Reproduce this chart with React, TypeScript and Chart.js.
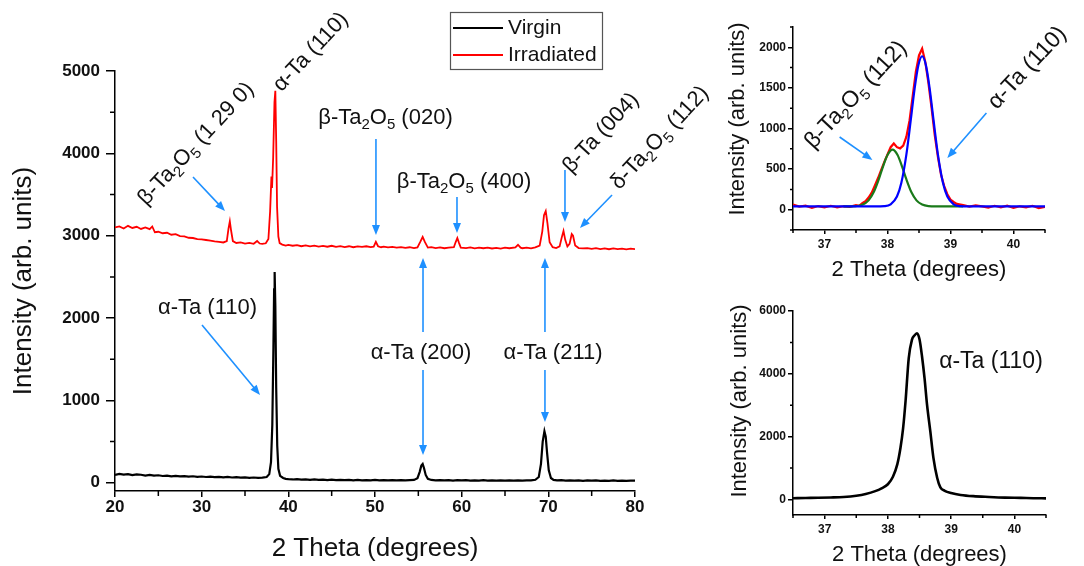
import React, { useEffect, useRef } from 'react';
import { Chart, registerables } from 'chart.js';

Chart.register(...registerables);

const FONT = '"Liberation Sans", Arial, Helvetica, sans-serif';
const ARROW_BLUE = '#1E90FF';

// ---------------- Main panel ----------------
const mainXTicks = [20, 30, 40, 50, 60, 70, 80];
const mainYTicks = [0, 1000, 2000, 3000, 4000, 5000];
const mainXMinor = [25, 35, 45, 55, 65, 75];
const mainYMinor = [500, 1500, 2500, 3500, 4500];

const virginTheta = [
  20, 20.5, 21, 21.5, 22, 22.5, 23, 23.5, 24, 24.5,
  25, 25.5, 26, 26.5, 27, 27.5, 28, 28.5, 29, 29.5,
  30, 30.5, 31, 31.5, 32, 32.5, 33, 33.5, 34, 34.5,
  35, 35.5, 36, 36.5, 37, 37.5,
  37.8, 38.0, 38.15, 38.28, 38.36, 38.42, 38.5, 38.6, 38.72, 38.85, 39.05, 39.4, 39.7,
  40, 40.5, 41, 41.5, 42, 42.5, 43, 43.5, 44, 44.5,
  45, 45.5, 46, 46.5, 47, 47.5, 48, 48.5, 49, 49.5,
  50, 50.5, 51, 51.5, 52, 52.5, 53, 53.5, 54, 54.5,
  54.9, 55.15, 55.35, 55.5, 55.65, 55.85, 56.1,
  56.5, 57, 57.5, 58, 58.5, 59, 59.5, 60, 60.5, 61,
  61.5, 62, 62.5, 63, 63.5, 64, 64.5, 65, 65.5, 66,
  66.5, 67, 67.5, 68, 68.5,
  68.9, 69.15, 69.35, 69.55, 69.7, 69.85, 70.05, 70.3, 70.6,
  71, 71.5, 72, 72.5, 73, 73.5, 74, 74.5, 75, 75.5,
  76, 76.5, 77, 77.5, 78, 78.5, 79, 79.5, 80,
];
const virginIntensity = [
  95, 108, 98, 104, 92, 101, 97, 88, 95, 86,
  91, 82, 87, 78, 84, 77, 80, 74, 79, 71,
  76, 70, 74, 68, 72, 66, 71, 64, 68, 62,
  66, 60, 64, 59, 63, 70,
  105, 250, 700, 1650, 2350, 2560, 2150, 1150, 450, 170, 85, 58, 48,
  44, 40, 45, 38, 42, 36, 41, 35, 39, 33,
  37, 32, 36, 31, 35, 30, 34, 29, 33, 29,
  34, 30, 33, 28, 32, 29, 33, 28, 32, 35,
  55, 130, 210, 228, 180, 95, 48,
  34, 30, 33, 28, 32, 27, 31, 28, 32, 27,
  30, 26, 31, 27, 30, 25, 29, 26, 30, 27,
  29, 26, 30, 28, 36,
  70, 230, 500, 625, 560, 370, 150, 58, 35,
  28, 31, 26, 30, 25, 29, 24, 28, 25, 29,
  24, 27, 23, 28, 24, 27, 23, 26, 25,
];

const irradiatedTheta = [
  20, 20.5, 21, 21.5, 22, 22.5, 23, 23.5, 24,
  24.3, 24.6,
  25, 25.5, 26, 26.5, 27, 27.5, 28, 28.5, 29, 29.5, 30, 30.5, 31, 31.5, 32, 32.5,
  32.9, 33.1, 33.25, 33.4, 33.6,
  34, 34.5, 35, 35.5, 36,
  36.4, 36.7, 37, 37.4, 37.7, 37.9, 38.05, 38.12, 38.25, 38.4, 38.5, 38.6, 38.7, 38.85, 39.0, 39.3, 39.7,
  40, 40.5, 41, 41.5, 42, 42.5, 43, 43.5, 44, 44.5, 45, 45.5, 46, 46.5, 47, 47.5, 48, 48.5, 49, 49.5,
  49.85, 50.1, 50.35, 50.7,
  51, 51.5, 52, 52.5, 53, 53.5, 54, 54.5,
  54.9, 55.25, 55.5, 55.75, 56.1,
  56.5, 57, 57.5, 58, 58.5,
  59.1, 59.3, 59.5, 59.7, 59.9,
  60.5, 61, 61.5, 62, 62.5, 63, 63.5, 64, 64.5, 65, 65.5,
  66.2, 66.5, 66.8,
  67, 67.5, 68, 68.5,
  69.0, 69.3, 69.5, 69.7, 69.9, 70.15, 70.5, 70.9, 71.3, 71.55, 71.75, 71.95, 72.2, 72.45, 72.7, 72.85, 73.1, 73.5,
  74, 74.5, 75, 75.5, 76, 76.5, 77, 77.5, 78, 78.5, 79, 79.5, 80,
];
const irradiatedIntensity = [
  3100, 3112, 3088, 3120, 3094, 3108, 3082, 3101, 3079,
  3112, 3042,
  3048, 3030, 3036, 3012, 3018, 2996, 2992, 2975, 2972, 2958, 2955, 2948, 2940, 2932, 2926, 2918,
  2935, 3090, 3175, 3060, 2935,
  2912, 2918, 2905, 2912, 2902,
  2935, 2905, 2900, 2908, 2960, 3300, 3720, 3580, 3950, 4620, 4760, 4150, 3350, 2990, 2910, 2892, 2880,
  2888, 2878, 2885, 2872, 2882, 2870, 2880, 2868, 2876, 2866, 2878, 2865, 2874, 2862, 2872, 2860, 2870, 2864, 2872, 2862,
  2868, 2925, 2872, 2860,
  2868, 2858, 2864, 2855, 2862, 2852, 2860, 2850,
  2858, 2930, 2985, 2925, 2856,
  2862, 2850, 2858, 2848, 2856,
  2860, 2920, 2972, 2910, 2855,
  2850, 2858, 2846, 2855, 2848, 2856, 2845, 2852, 2844, 2854, 2848,
  2858, 2890, 2855,
  2848, 2856, 2846, 2858,
  2880, 3050, 3250, 3300, 3150, 2920, 2860, 2850, 2870, 2980, 3058, 2950, 2870, 2900, 3020, 3000, 2880, 2850,
  2845, 2850, 2840, 2848, 2838, 2846, 2836, 2845, 2838, 2844, 2835, 2842, 2838,
];

// ---------------- Inset panels (shared x) ----------------
const insetXTicks = [37, 38, 39, 40];
const insetXMinor = [36.5, 37.5, 38.5, 39.5, 40.5];

// Top inset: irradiated peak with two fitted components
const fitYTicks = [0, 500, 1000, 1500, 2000];
const fitYMinor = [-250, 250, 750, 1250, 1750, 2250];

const fitDataTheta = [
  36.5, 36.6, 36.7, 36.8, 36.9, 37.0, 37.1, 37.2, 37.3, 37.4,
  37.5, 37.55, 37.6, 37.65, 37.7, 37.75, 37.8, 37.85, 37.9, 37.95,
  38.0, 38.05, 38.1, 38.15, 38.2, 38.25, 38.3, 38.35, 38.4, 38.45,
  38.5, 38.55, 38.6, 38.65, 38.7, 38.75, 38.8, 38.85, 38.9, 38.95,
  39.0, 39.05, 39.1, 39.2, 39.3, 39.4, 39.5, 39.6, 39.7, 39.8,
  39.9, 40.0, 40.1, 40.2, 40.3, 40.4, 40.5,
];
const fitDataIntensity = [
  62, 38, 50, 22, 45, 30, 48, 28, 42, 36,
  55, 48, 80, 105, 150, 210, 300, 390, 490, 590,
  680, 770, 815, 770, 755, 790, 900, 1100, 1400, 1700,
  1900, 1985, 1820, 1560, 1250, 920, 650, 430, 290, 190,
  125, 95, 72, 58, 38, 52, 40, 25, 48, 30,
  50, 22, 42, 30, 48, 20, 36,
];

const oxideFitTheta = [37.3, 37.5, 37.6, 37.7, 37.78, 37.85, 37.93, 38.0, 38.08, 38.16, 38.23, 38.3, 38.38, 38.46, 38.55, 38.65, 38.8, 39.0, 39.2];
const oxideFitIntensity = [40, 45, 60, 115, 214, 349, 535, 674, 740, 674, 535, 372, 214, 115, 63, 45, 41, 40, 40];

const alphaFitTheta = [36.5, 37.0, 37.5, 37.8, 37.95, 38.05, 38.15, 38.22, 38.3, 38.37, 38.43, 38.49, 38.55, 38.61, 38.67, 38.73, 38.8, 38.88, 38.95, 39.05, 39.15, 39.3, 39.6, 40.0, 40.5];
const alphaFitIntensity = [40, 40, 40, 40, 44, 67, 163, 332, 682, 1108, 1489, 1779, 1890, 1779, 1489, 1108, 682, 332, 163, 67, 44, 40, 40, 40, 40];

// Bottom inset: virgin alpha-Ta (110)
const virginPeakYTicks = [0, 2000, 4000, 6000];
const virginPeakYMinor = [1000, 3000, 5000];
const virginPeakTheta = [
  36.5, 36.7, 36.9, 37.1, 37.3, 37.5, 37.65, 37.8, 37.9, 38.0,
  38.08, 38.15, 38.2, 38.24, 38.28, 38.33, 38.38, 38.42, 38.46, 38.5,
  38.54, 38.58, 38.62, 38.67, 38.72, 38.78, 38.83, 38.9, 39.0, 39.15,
  39.35, 39.6, 39.85, 40.1, 40.3, 40.5,
];
const virginPeakIntensity = [
  35, 42, 48, 58, 75, 115, 170, 260, 350, 480,
  720, 1120, 1650, 2250, 3140, 4500, 5080, 5220, 5290, 5100,
  4550, 3850, 3000, 2180, 1320, 680, 380, 270, 200, 140,
  100, 75, 55, 45, 35, 30,
];

// ---------------- Drawing helpers ----------------
type Label = { text: string; x: number; y: number; rot: number; size: number };
type Arrow = { x1: number; y1: number; x2: number; y2: number };
type Overlay = {
  labels: Label[];
  arrows: Arrow[];
  minorX: number[];
  minorY: number[];
  minorLen: number;
  yTitle?: { text: string; cx: number; cy: number; size: number };
  legend?: { left: number; top: number; width: number; height: number; size: number };
};

function drawRich(ctx: CanvasRenderingContext2D, text: string, size: number, cx: number, cy: number, rot: number) {
  const parts: { t: string; sub: boolean }[] = [];
  let buf = '';
  for (let i = 0; i < text.length; i++) {
    if (text[i] === '_' && i + 1 < text.length) {
      if (buf) parts.push({ t: buf, sub: false });
      buf = '';
      parts.push({ t: text[i + 1], sub: true });
      i++;
    } else buf += text[i];
  }
  if (buf) parts.push({ t: buf, sub: false });
  const mainFont = `${size}px ${FONT}`;
  const subFont = `${Math.round(size * 0.66)}px ${FONT}`;
  let w = 0;
  parts.forEach((p) => {
    ctx.font = p.sub ? subFont : mainFont;
    w += ctx.measureText(p.t).width;
  });
  ctx.save();
  ctx.translate(cx, cy);
  ctx.rotate((rot * Math.PI) / 180);
  ctx.fillStyle = '#111';
  ctx.textAlign = 'left';
  ctx.textBaseline = 'middle';
  let x = -w / 2;
  parts.forEach((p) => {
    ctx.font = p.sub ? subFont : mainFont;
    ctx.fillText(p.t, x, p.sub ? size * 0.32 : 0);
    x += ctx.measureText(p.t).width;
  });
  ctx.restore();
}

function drawArrow(ctx: CanvasRenderingContext2D, x1: number, y1: number, x2: number, y2: number) {
  const ang = Math.atan2(y2 - y1, x2 - x1);
  const head = 10;
  const hw = 4;
  const c = Math.cos(ang);
  const s = Math.sin(ang);
  ctx.save();
  ctx.strokeStyle = ARROW_BLUE;
  ctx.fillStyle = ARROW_BLUE;
  ctx.lineWidth = 1.6;
  ctx.beginPath();
  ctx.moveTo(x1, y1);
  ctx.lineTo(x2 - head * c * 0.8, y2 - head * s * 0.8);
  ctx.stroke();
  ctx.beginPath();
  ctx.moveTo(x2, y2);
  ctx.lineTo(x2 - head * c - hw * s, y2 - head * s + hw * c);
  ctx.lineTo(x2 - head * c + hw * s, y2 - head * s - hw * c);
  ctx.closePath();
  ctx.fill();
  ctx.restore();
}

function makeOverlay(o: Overlay) {
  return {
    id: 'overlay',
    afterDraw(chart: any) {
      const ctx: CanvasRenderingContext2D = chart.ctx;
      const xs = chart.scales.x;
      const ys = chart.scales.y;
      const area = chart.chartArea;
      ctx.save();
      ctx.strokeStyle = '#000';
      ctx.lineWidth = 1.5;
      ctx.beginPath();
      o.minorX.forEach((v) => {
        const px = xs.getPixelForValue(v);
        ctx.moveTo(px, area.bottom);
        ctx.lineTo(px, area.bottom + o.minorLen);
      });
      o.minorY.forEach((v) => {
        const py = ys.getPixelForValue(v);
        ctx.moveTo(area.left, py);
        ctx.lineTo(area.left - o.minorLen, py);
      });
      ctx.stroke();
      if (o.yTitle) {
        ctx.save();
        ctx.translate(o.yTitle.cx, o.yTitle.cy);
        ctx.rotate(-Math.PI / 2);
        ctx.fillStyle = '#111';
        ctx.font = `${o.yTitle.size}px ${FONT}`;
        ctx.textAlign = 'center';
        ctx.textBaseline = 'middle';
        ctx.fillText(o.yTitle.text, 0, 0);
        ctx.restore();
      }
      o.arrows.forEach((a) =>
        drawArrow(ctx, xs.getPixelForValue(a.x1), ys.getPixelForValue(a.y1), xs.getPixelForValue(a.x2), ys.getPixelForValue(a.y2))
      );
      o.labels.forEach((l) => drawRich(ctx, l.text, l.size, xs.getPixelForValue(l.x), ys.getPixelForValue(l.y), l.rot));
      if (o.legend) {
        const L = o.legend;
        ctx.fillStyle = '#fff';
        ctx.fillRect(L.left, L.top, L.width, L.height);
        ctx.strokeStyle = '#555';
        ctx.lineWidth = 1.2;
        ctx.strokeRect(L.left + 0.5, L.top + 0.5, L.width, L.height);
        chart.data.datasets.forEach((ds: any, i: number) => {
          const cy = L.top + 16 + i * 27;
          ctx.strokeStyle = ds.borderColor;
          ctx.lineWidth = ds.borderWidth;
          ctx.beginPath();
          ctx.moveTo(L.left + 3, cy);
          ctx.lineTo(L.left + 53, cy);
          ctx.stroke();
          ctx.fillStyle = '#111';
          ctx.font = `${L.size}px ${FONT}`;
          ctx.textAlign = 'left';
          ctx.textBaseline = 'middle';
          ctx.fillText(ds.label, L.left + 58, cy);
        });
      }
      ctx.restore();
    },
  };
}

function pts(xs: number[], ys: number[]) {
  return xs.map((x, i) => ({ x, y: ys[i] }));
}

function axis(o: {
  min: number; max: number; ticks: number[]; size: number; tickLen: number; pad: number;
  title: string; titleSize: number; titlePad: any; titleLH?: number; showTitle?: boolean; fit: (s: any) => void;
}) {
  return {
    type: 'linear',
    min: o.min,
    max: o.max,
    afterBuildTicks: (s: any) => {
      s.ticks = o.ticks.map((v) => ({ value: v }));
    },
    afterFit: o.fit,
    ticks: {
      callback: (v: any) => String(v),
      font: { family: FONT, size: o.size, weight: 'bold' },
      color: '#111',
      padding: o.pad,
      maxRotation: 0,
      autoSkip: false,
    },
    grid: { drawOnChartArea: false, drawTicks: true, tickLength: o.tickLen, color: '#000', lineWidth: 1.5 },
    border: { color: '#000', width: 1.5 },
    title: {
      display: o.showTitle ?? true,
      text: o.title,
      color: '#111',
      font: { family: FONT, size: o.titleSize, lineHeight: o.titleLH ?? 1.2 },
      padding: o.titlePad,
    },
  };
}

const mainOverlay: Overlay = {
  minorX: mainXMinor,
  minorY: mainYMinor,
  minorLen: 5,
  legend: { left: 450, top: 12, width: 152, height: 57, size: 21 },
  arrows: [
    { x1: 29.0, y1: 3713, x2: 32.69, y2: 3300 },
    { x1: 50.11, y1: 4174, x2: 50.11, y2: 3009 },
    { x1: 59.46, y1: 3470, x2: 59.46, y2: 3033 },
    { x1: 71.92, y1: 3798, x2: 71.92, y2: 3167 },
    { x1: 77.35, y1: 3494, x2: 73.65, y2: 3094 },
    { x1: 55.54, y1: 1831, x2: 55.54, y2: 2729 },
    { x1: 55.54, y1: 1369, x2: 55.54, y2: 337 },
    { x1: 69.61, y1: 1831, x2: 69.61, y2: 2729 },
    { x1: 69.61, y1: 1369, x2: 69.61, y2: 738 },
    { x1: 30.04, y1: 1916, x2: 36.73, y2: 1066 },
  ],
  labels: [
    { text: 'β-Ta_2O_5 (1 29 0)', x: 29.35, y: 4114, rot: -47, size: 22 },
    { text: 'α-Ta (110)', x: 42.6, y: 5230, rot: -47, size: 22 },
    { text: 'β-Ta_2O_5 (020)', x: 51.21, y: 4429, rot: 0, size: 22 },
    { text: 'β-Ta_2O_5 (400)', x: 60.27, y: 3652, rot: 0, size: 22 },
    { text: 'β-Ta (004)', x: 76.08, y: 4247, rot: -47, size: 22 },
    { text: 'δ-Ta_2O_5 (112)', x: 82.88, y: 4187, rot: -47, size: 22 },
    { text: 'α-Ta (200)', x: 55.31, y: 1576, rot: 0, size: 22 },
    { text: 'α-Ta (211)', x: 70.54, y: 1576, rot: 0, size: 22 },
    { text: 'α-Ta (110)', x: 30.67, y: 2122, rot: 0, size: 22 },
  ],
};

const fitOverlay: Overlay = {
  minorX: insetXMinor,
  minorY: fitYMinor,
  minorLen: 3,
  yTitle: { text: 'Intensity (arb. units)', cx: 18, cy: 119, size: 22 },
  arrows: [
    { x1: 37.24, y1: 895, x2: 37.76, y2: 612 },
    { x1: 39.57, y1: 1191, x2: 38.95, y2: 637 },
  ],
  labels: [
    { text: 'β-Ta_2O_5 (112)', x: 37.5, y: 1413, rot: -47, size: 23 },
    { text: 'α-Ta (110)', x: 40.22, y: 1745, rot: -47, size: 23 },
  ],
};

const virginOverlay: Overlay = {
  minorX: insetXMinor,
  minorY: virginPeakYMinor,
  minorLen: 3,
  yTitle: { text: 'Intensity (arb. units)', cx: 20, cy: 111, size: 22 },
  arrows: [],
  labels: [{ text: 'α-Ta (110)', x: 39.63, y: 4376, rot: 0, size: 23 }],
};

function mainConfig(): any {
  return {
    type: 'line',
    data: {
      datasets: [
        { label: 'Virgin', data: pts(virginTheta, virginIntensity), borderColor: '#000000', borderWidth: 2.2, pointRadius: 0, tension: 0, fill: false },
        { label: 'Irradiated', data: pts(irradiatedTheta, irradiatedIntensity), borderColor: '#FF0000', borderWidth: 1.8, pointRadius: 0, tension: 0, fill: false },
      ],
    },
    options: {
      responsive: false,
      animation: false,
      events: [],
      layout: { padding: { left: 0, top: 71, right: 85, bottom: 0 } },
      plugins: { legend: { display: false }, tooltip: { enabled: false } },
      scales: {
        x: axis({ min: 20, max: 80, ticks: mainXTicks, size: 17, tickLen: 6, pad: 0, title: '2 Theta (degrees)', titleSize: 26, titlePad: { top: 0, bottom: 2 }, fit: (s) => { s.height = 75; } }),
        y: axis({ min: -100, max: 5000, ticks: mainYTicks, size: 17, tickLen: 9, pad: 6, title: 'Intensity (arb. units)', titleSize: 26, titlePad: { top: 8, bottom: 0 }, fit: (s) => { s.width = 115; } }),
      },
    },
    plugins: [makeOverlay(mainOverlay)],
  };
}

function fitConfig(): any {
  return {
    type: 'line',
    data: {
      datasets: [
        { label: 'α-Ta fit', data: pts(alphaFitTheta, alphaFitIntensity), borderColor: '#0000FF', borderWidth: 2.2, pointRadius: 0, cubicInterpolationMode: 'monotone', fill: false },
        { label: 'β-Ta2O5 fit', data: pts(oxideFitTheta, oxideFitIntensity), borderColor: '#1A7A1A', borderWidth: 2.2, pointRadius: 0, cubicInterpolationMode: 'monotone', fill: false },
        { label: 'Irradiated', data: pts(fitDataTheta, fitDataIntensity), borderColor: '#FF0000', borderWidth: 2.2, pointRadius: 0, tension: 0, fill: false },
      ],
    },
    options: {
      responsive: false,
      animation: false,
      events: [],
      layout: { padding: { left: 0, top: 27, right: 39, bottom: 0 } },
      plugins: { legend: { display: false }, tooltip: { enabled: false } },
      scales: {
        x: axis({ min: 36.5, max: 40.5, ticks: insetXTicks, size: 12, tickLen: 4, pad: 3, title: '2 Theta (degrees)', titleSize: 22, titlePad: { top: 0, bottom: 7 }, fit: (s) => { s.height = 60; } }),
        y: axis({ min: -250, max: 2250, ticks: fitYTicks, size: 12, tickLen: 5, pad: 2, title: 'Intensity (arb. units)', titleSize: 22, titlePad: { top: 4, bottom: 0 }, showTitle: false, fit: (s) => { s.width = 73; } }),
      },
    },
    plugins: [makeOverlay(fitOverlay)],
  };
}

function virginPeakConfig(): any {
  return {
    type: 'line',
    data: {
      datasets: [
        { label: 'Virgin', data: pts(virginPeakTheta, virginPeakIntensity), borderColor: '#000000', borderWidth: 2.6, pointRadius: 0, cubicInterpolationMode: 'monotone', fill: false },
      ],
    },
    options: {
      responsive: false,
      animation: false,
      events: [],
      layout: { padding: { left: 0, top: 21, right: 38, bottom: 0 } },
      plugins: { legend: { display: false }, tooltip: { enabled: false } },
      scales: {
        x: axis({ min: 36.5, max: 40.5, ticks: insetXTicks, size: 12, tickLen: 4, pad: 3, title: '2 Theta (degrees)', titleSize: 22, titleLH: 1, titlePad: { top: 0, bottom: 0 }, fit: (s) => { s.height = 51; } }),
        y: axis({ min: -500, max: 6000, ticks: virginPeakYTicks, size: 12, tickLen: 5, pad: 2, title: 'Intensity (arb. units)', titleSize: 22, titlePad: { top: 7, bottom: 0 }, showTitle: false, fit: (s) => { s.width = 73; } }),
      },
    },
    plugins: [makeOverlay(virginOverlay)],
  };
}

function ChartCanvas(props: { build: () => any; left: number; top: number; width: number; height: number }) {
  const ref = useRef<HTMLCanvasElement>(null);
  useEffect(() => {
    const chart = new Chart(ref.current as HTMLCanvasElement, props.build());
    return () => chart.destroy();
  }, []);
  return (
    <canvas
      ref={ref}
      width={props.width}
      height={props.height}
      style={{ position: 'absolute', left: props.left, top: props.top, width: props.width, height: props.height }}
    />
  );
}

export default function App() {
  return (
    <div style={{ position: 'absolute', left: 0, top: 0, width: 1084, height: 566, overflow: 'hidden', background: '#fff' }}>
      <ChartCanvas build={mainConfig} left={0} top={0} width={720} height={566} />
      <ChartCanvas build={fitConfig} left={720} top={0} width={364} height={290} />
      <ChartCanvas build={virginPeakConfig} left={720} top={290} width={364} height={276} />
    </div>
  );
}
